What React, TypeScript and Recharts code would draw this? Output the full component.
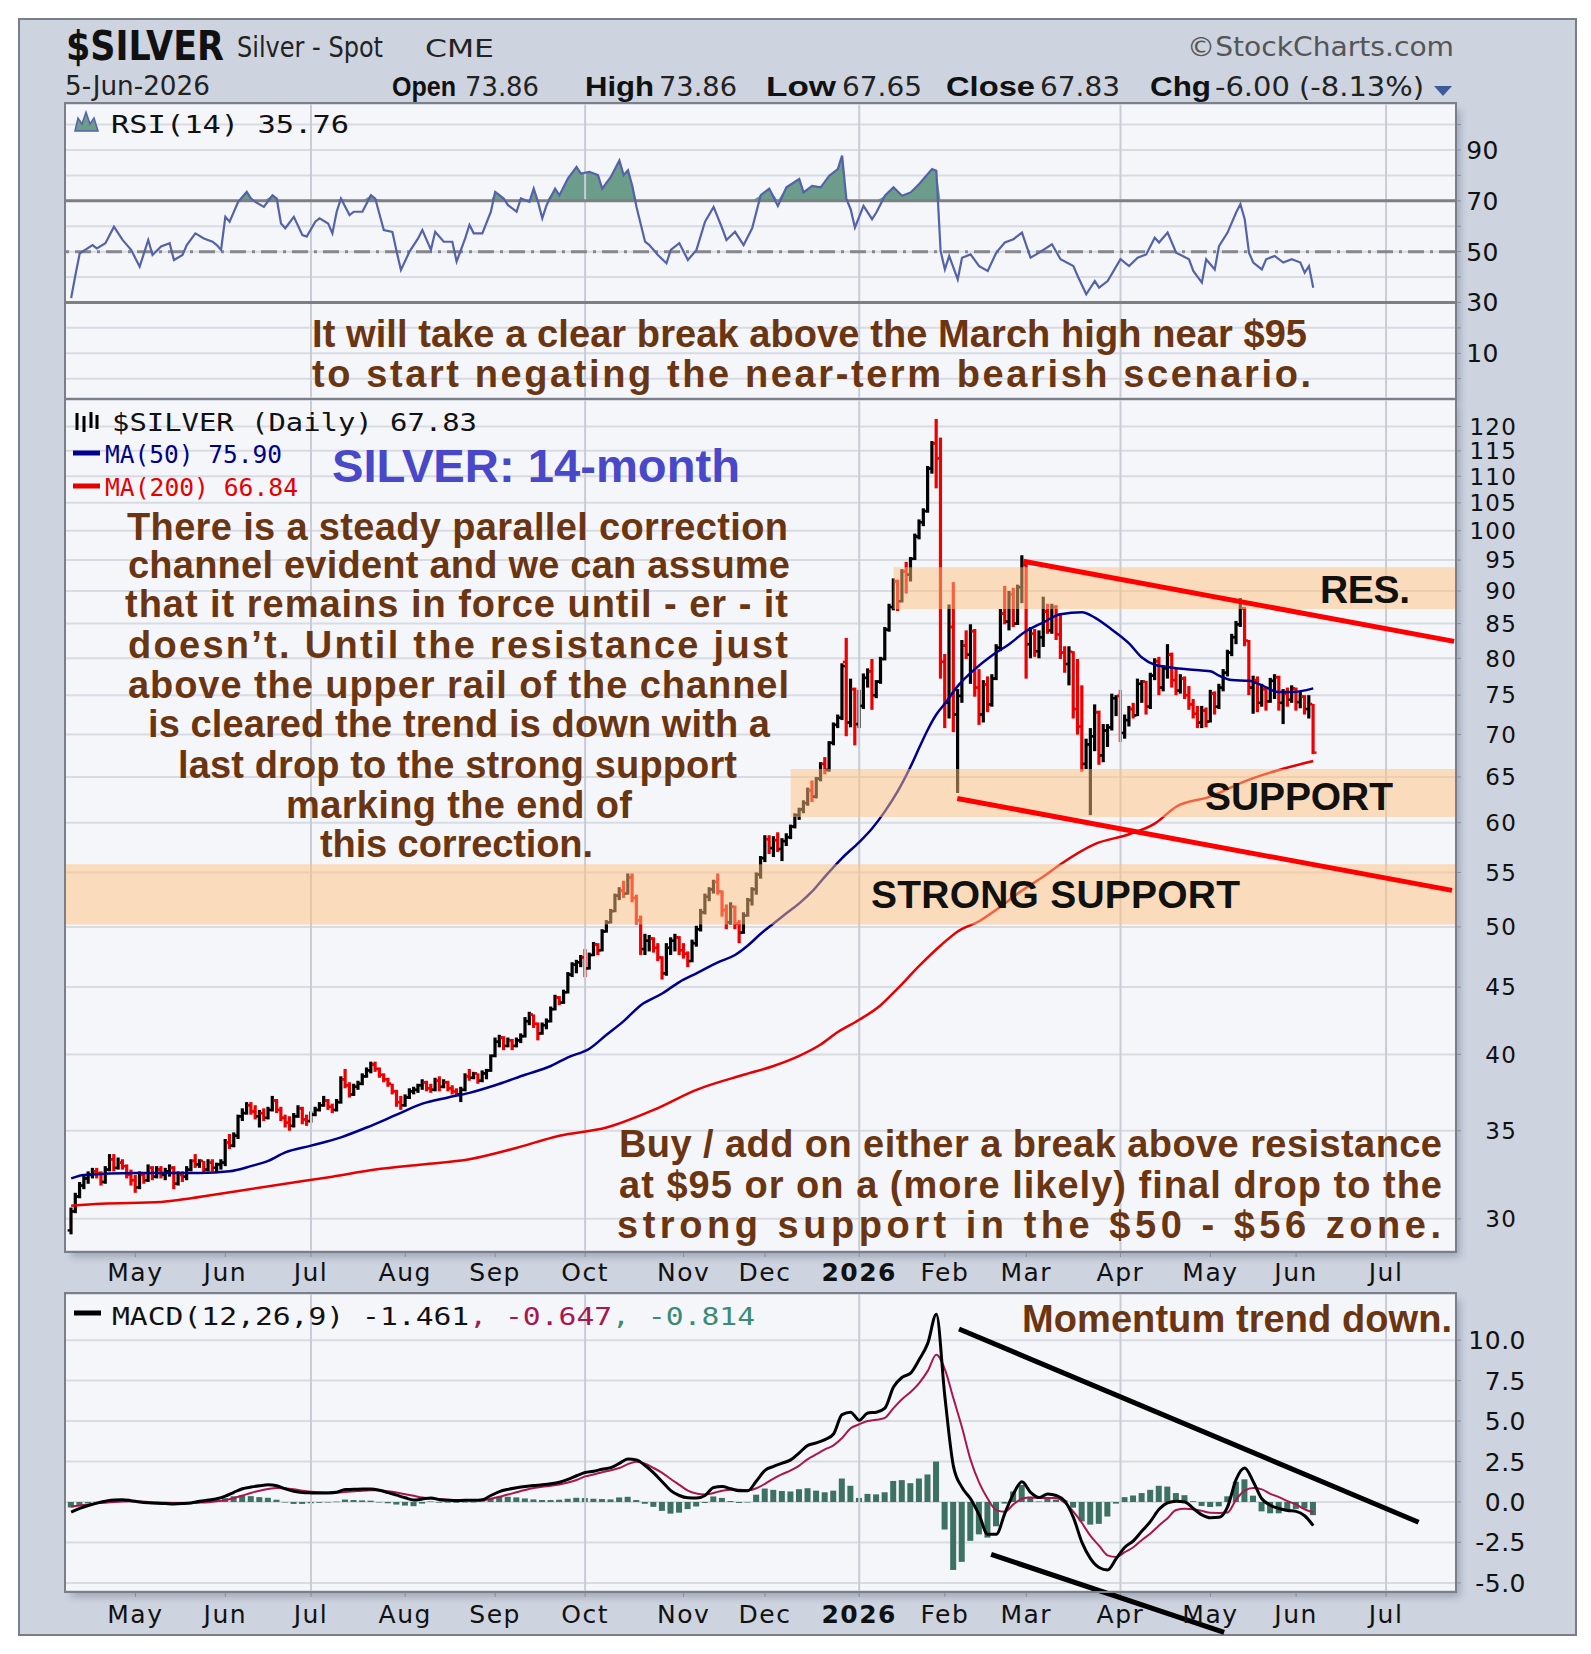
import React from 'react';
import {
  ComposedChart, Line, Bar, Area, XAxis, YAxis, CartesianGrid, ReferenceLine, ReferenceArea,
} from 'recharts';

// Trading-day index: 0 = 1 May 2025. First bar is day -15.
const FIRST_DAY = -15;

const OPEN = [
  29.4,30.4,31.2,31.8,32.2,32.4,32.6,32.5,32.0,32.7,
  33.3,32.8,33.1,32.9,32.4,32.1,31.7,32.4,32.1,32.8,
  32.3,32.7,32.4,32.6,32.8,31.9,32.4,32.3,32.7,33.2,
  33.0,33.2,32.7,33.1,32.8,33.0,33.1,34.3,34.1,34.7,
  35.9,36.1,36.6,36.2,35.9,36.1,35.8,36.3,36.9,36.3,
  35.8,35.5,35.3,35.9,36.4,35.7,35.6,36.0,36.3,36.6,
  36.9,36.5,36.3,36.8,38.3,37.9,37.3,37.8,38.0,38.5,
  38.9,39.3,39.0,38.6,38.3,38.0,37.5,36.8,36.6,37.1,
  37.5,37.6,37.9,38.1,37.7,37.6,38.2,37.8,38.1,37.7,
  37.5,37.3,37.6,38.5,38.4,38.7,38.2,38.7,38.9,39.9,
  40.9,41.2,40.6,41.0,40.6,41.0,41.3,42.4,42.9,42.2,
  41.5,42.1,42.4,43.3,44.2,43.8,44.6,46.0,46.8,47.0,
  47.4,46.5,47.6,48.5,48.0,49.6,50.4,51.4,52.8,53.3,
  53.0,54.5,52.6,50.6,48.1,48.8,49.0,48.2,47.4,46.1,
  48.2,48.8,49.1,48.0,47.7,47.1,48.6,49.8,51.3,52.7,
  53.4,54.1,53.2,51.5,50.4,51.8,50.3,49.5,51.0,52.4,
  53.4,54.8,56.4,58.3,57.4,58.2,57.3,58.1,58.5,59.6,
  60.8,61.4,62.1,63.5,62.8,64.8,66.5,65.8,69.0,71.2,
  72.1,79.5,71.5,75.8,71.3,73.6,77.3,78.2,75.0,76.8,
  79.9,84.1,87.5,91.5,88.4,93.1,92.6,95.2,99.0,101.5,
  103.5,111.5,116.5,113.5,79.5,74.0,84.5,72.5,74.9,81.8,
  80.5,83.9,76.0,72.5,76.4,73.8,77.2,81.5,86.5,85.3,
  89.5,85.0,90.6,94.2,82.0,83.5,81.0,83.0,86.8,84.0,
  87.5,83.4,80.8,79.2,80.9,73.2,71.0,66.5,68.8,69.8,
  72.8,67.5,70.5,70.9,74.6,74.9,70.2,71.8,73.2,72.4,
  76.5,76.8,73.5,77.6,79.6,76.0,78.6,80.5,77.0,75.6,
  77.2,75.0,73.8,72.6,71.5,73.0,71.6,75.2,73.5,76.0,
  78.0,80.8,83.0,84.9,87.3,82.5,76.0,77.0,74.0,75.8,
  74.2,76.9,77.4,74.0,75.2,74.4,75.9,74.1,74.8,73.2,
  73.86,
];

const HIGH = [
  30.6,31.4,32.0,32.4,32.6,32.8,32.8,32.6,32.9,33.6,
  33.6,33.4,33.3,33.0,32.7,32.4,32.6,32.5,33.0,32.9,
  32.9,32.9,32.8,33.0,32.9,32.6,32.6,32.9,33.3,33.6,
  33.3,33.2,33.3,33.3,33.1,33.3,34.5,34.8,34.9,36.0,
  36.4,36.8,36.8,36.6,36.3,36.4,36.5,37.2,37.0,36.5,
  36.0,35.9,36.1,36.6,36.5,36.0,36.2,36.5,36.8,37.2,
  37.0,36.7,37.0,38.5,39.0,38.1,38.0,38.2,38.7,39.1,
  39.5,39.5,39.1,38.7,38.4,38.0,37.6,37.2,37.3,37.7,
  37.8,38.0,38.3,38.2,38.0,38.4,38.5,38.3,38.2,37.9,
  37.7,37.8,38.7,39.0,38.8,38.7,38.9,39.0,40.0,41.2,
  41.4,41.3,41.2,41.1,41.2,41.5,42.7,43.1,42.9,42.3,
  42.3,42.6,43.5,44.4,44.3,44.8,46.2,47.0,47.2,47.6,
  48.1,47.8,48.7,48.6,49.8,50.6,51.6,53.0,53.6,54.2,
  54.9,54.9,52.9,51.0,49.4,49.3,49.1,48.6,47.5,48.6,
  49.1,49.4,49.2,48.6,47.9,48.9,50.1,51.6,53.0,53.6,
  54.3,54.9,53.3,52.0,52.2,51.9,50.6,51.3,52.6,53.6,
  55.0,56.6,58.7,58.7,58.6,59.0,58.4,58.9,59.8,61.0,
  61.6,62.4,63.8,64.6,65.0,66.7,67.3,69.2,71.5,72.5,
  79.3,82.9,77.2,76.0,75.7,77.9,78.6,79.9,77.0,80.2,
  84.5,88.0,92.0,91.8,93.5,94.7,95.5,99.5,102.0,104.0,
  112.0,117.0,121.6,117.7,80.6,87.9,91.4,75.8,82.6,84.0,
  84.9,84.2,78.5,77.0,77.5,77.8,82.0,87.2,90.8,90.0,
  90.5,91.0,95.8,94.7,84.5,84.2,84.0,89.1,88.0,88.0,
  87.8,86.6,81.7,81.7,81.0,79.9,76.3,69.5,70.8,73.8,
  73.0,71.3,71.3,75.2,75.0,75.7,72.5,73.6,74.0,77.2,
  77.0,76.9,78.0,80.0,80.2,79.0,82.0,80.8,78.5,77.8,
  77.5,76.2,74.5,73.6,73.6,73.4,75.7,75.5,76.5,78.5,
  81.2,83.5,85.4,88.9,87.5,82.6,77.6,77.5,76.5,76.0,
  77.3,77.8,77.6,75.8,76.0,76.3,76.0,75.5,75.0,75.0,
  73.86,
];

const LOW = [
  29.2,30.3,31.1,31.6,31.9,32.2,32.2,31.8,31.9,32.6,
  32.6,32.7,32.7,32.2,31.8,31.4,31.6,31.9,32.0,32.1,
  32.2,32.2,32.1,32.3,31.6,31.8,32.0,32.1,32.6,32.8,
  32.8,32.5,32.6,32.6,32.5,32.7,32.9,33.9,34.0,34.5,
  35.6,36.0,36.0,35.7,35.2,35.6,35.7,36.2,36.1,35.6,
  35.2,35.0,35.2,35.8,35.4,35.3,35.5,35.9,36.2,36.5,
  36.3,36.1,36.2,36.7,37.7,37.1,37.2,37.6,37.9,38.4,
  38.7,38.8,38.4,38.1,37.8,37.3,36.5,36.3,36.5,37.0,
  37.3,37.4,37.6,37.5,37.4,37.5,37.5,37.7,37.5,37.3,
  37.2,36.8,37.5,38.2,38.3,38.0,38.1,38.3,38.8,39.8,
  40.5,40.3,40.5,40.3,40.5,40.8,41.2,42.1,41.9,41.0,
  41.4,41.8,42.3,43.2,43.6,43.7,44.5,45.8,46.1,46.6,
  45.8,46.4,47.5,47.6,47.9,49.5,50.3,51.3,52.4,52.6,
  52.9,52.2,50.2,47.6,47.6,47.9,47.8,47.1,45.6,45.9,
  47.6,47.9,47.6,47.3,46.6,47.0,48.3,49.6,51.1,52.3,
  53.0,52.9,50.9,49.8,50.2,49.8,48.6,49.4,50.9,51.9,
  52.9,54.4,56.0,56.8,56.5,57.0,56.1,57.6,58.3,59.4,
  60.3,61.0,61.8,62.2,62.6,64.5,65.3,65.6,68.7,70.8,
  71.8,69.8,70.9,68.7,70.8,73.2,76.0,73.1,74.6,76.5,
  79.7,83.8,87.0,86.9,88.2,89.6,91.5,95.0,98.5,100.8,
  103.2,110.5,107.7,77.2,70.8,72.0,70.3,63.2,74.0,79.9,
  76.5,74.8,71.2,71.5,72.8,73.5,77.0,81.0,84.9,84.0,
  84.5,84.8,88.1,77.2,80.0,80.2,80.0,81.6,83.5,83.5,
  82.6,79.9,78.0,76.3,72.0,70.0,65.6,65.9,60.8,68.0,
  66.4,66.7,68.5,70.5,72.3,69.1,69.5,71.0,72.0,72.3,
  74.0,72.5,73.2,77.0,75.0,75.5,77.2,76.0,75.0,75.2,
  74.5,73.1,72.0,70.8,70.8,70.9,71.5,72.5,73.2,75.5,
  77.5,80.3,82.0,84.5,81.7,75.0,72.6,72.8,73.5,73.0,
  74.0,74.5,73.0,71.3,73.5,74.0,73.0,73.3,72.5,72.0,
  67.65,
];

const CLOSE = [
  30.4,31.2,31.8,32.2,32.4,32.6,32.5,32.0,32.7,33.3,
  32.8,33.1,32.9,32.4,32.1,31.7,32.4,32.1,32.8,32.3,
  32.7,32.4,32.6,32.8,31.9,32.4,32.3,32.7,33.2,33.0,
  33.2,32.7,33.1,32.8,33.0,33.1,34.3,34.1,34.7,35.9,
  36.1,36.6,36.2,35.9,36.1,35.8,36.3,36.9,36.3,35.8,
  35.5,35.3,35.9,36.4,35.7,35.6,36.0,36.3,36.6,36.9,
  36.5,36.3,36.8,38.3,37.9,37.3,37.8,38.0,38.5,38.9,
  39.3,39.0,38.6,38.3,38.0,37.5,36.8,36.6,37.1,37.5,
  37.6,37.9,38.1,37.7,37.6,38.2,37.8,38.1,37.7,37.5,
  37.3,37.6,38.5,38.4,38.7,38.2,38.7,38.9,39.9,40.9,
  41.2,40.6,41.0,40.6,41.0,41.3,42.4,42.9,42.2,41.5,
  42.1,42.4,43.3,44.2,43.8,44.6,46.0,46.8,47.0,47.4,
  46.5,47.6,48.5,48.0,49.6,50.4,51.4,52.8,53.3,53.0,
  54.5,52.6,50.6,48.1,48.8,49.0,48.2,47.4,46.1,48.2,
  48.8,49.1,48.0,47.7,47.1,48.6,49.8,51.3,52.7,53.4,
  54.1,53.2,51.5,50.4,51.8,50.3,49.5,51.0,52.4,53.4,
  54.8,56.4,58.3,57.4,58.2,57.3,58.1,58.5,59.6,60.8,
  61.4,62.1,63.5,62.8,64.8,66.5,65.8,69.0,71.2,72.1,
  78.9,71.5,75.8,71.3,73.6,77.3,78.2,75.0,76.8,79.9,
  84.1,87.5,91.5,88.4,93.1,92.6,95.2,99.0,101.5,103.5,
  111.5,116.5,113.5,79.5,74.0,84.5,72.5,74.9,81.8,80.5,
  83.9,76.0,72.5,76.4,73.8,77.2,81.5,86.5,85.3,89.5,
  85.0,90.6,94.2,82.0,83.5,81.0,83.0,86.8,84.0,87.5,
  83.4,80.8,79.2,80.9,73.2,71.0,66.5,68.8,69.8,72.8,
  67.5,70.5,70.9,74.6,74.9,70.2,71.8,73.2,72.4,76.5,
  76.8,73.5,77.6,79.6,76.0,78.6,80.5,77.0,75.6,77.2,
  75.0,73.8,72.6,71.5,73.0,71.6,75.2,73.5,76.0,78.0,
  80.8,83.0,84.9,87.3,82.5,76.0,77.0,74.0,75.8,74.2,
  76.9,77.4,74.0,75.2,74.4,75.9,74.1,74.8,73.2,73.83,
  67.83,
];

// Moving averages: [day, value]
const MA50_POINTS: [number, number][] = [
  [-15,32.2],[-12,32.4],[0,32.5],[15,32.5],[22,32.6],[27,32.9],[31,33.2],[35,33.7],[41,34.1],[48,34.6],
  [54,35.2],[61,36.0],[67,36.7],[73,37.1],[78,37.4],[84,37.9],[91,38.6],[97,39.2],[101,39.8],[106,40.4],
  [110,41.4],[114,42.4],[118,43.6],[123,44.5],[127,45.4],[131,46.1],[136,47.0],[140,47.6],[143,48.4],[146,49.4],
  [149,50.3],[152,51.2],[155,52.1],[158,53.2],[161,54.6],[165,56.4],[169,58.0],[172,59.4],[175,61.2],[178,63.4],
  [181,66.2],[183,68.4],[185,70.6],[187,72.5],[189,73.9],[192,76.2],[196,78.5],[200,80.4],[204,82.0],[208,83.9],
  [212,85.2],[216,86.4],[221,86.7],[224,85.9],[228,84.1],[232,82.1],[235,80.1],[238,79.1],[241,78.8],[245,78.5],
  [249,78.3],[251,78.2],[253,77.6],[256,77.0],[260,76.9],[263,76.3],[267,75.4],[270,75.4],[275,75.9],
];

const MA200_POINTS: [number, number][] = [
  [-15,30.7],[-8,30.8],[6,30.9],[13,31.1],[24,31.5],[35,31.9],[46,32.3],[56,32.7],[67,33.0],[78,33.3],
  [88,33.9],[99,34.7],[110,35.2],[121,36.3],[131,37.6],[142,38.6],[149,39.2],[155,39.9],[160,40.7],[164,41.6],
  [169,42.5],[174,43.6],[178,44.9],[183,46.7],[188,48.4],[192,49.6],[197,50.5],[202,51.8],[206,53.0],[212,54.6],
  [216,55.8],[224,57.8],[232,58.8],[238,59.9],[243,61.7],[251,62.8],[259,64.5],[267,65.8],[275,66.84],
];

const RSI_POINTS: [number, number][] = [
  [-15,31.7],[-14,40.8],[-13,49.3],[-10,52.6],[-9,51.3],[-7,53.3],[-5,59.8],[-3,54.6],[-1,50.7],[1,44.1],
  [3,54.6],[4,48.7],[6,52.0],[8,53.3],[9,46.7],[11,48.7],[12,52.6],[14,57.2],[16,55.2],[18,53.9],
  [19,52.6],[20,50.7],[21,63.7],[22,61.8],[24,69.6],[26,73.5],[27,70.9],[28,69.6],[30,67.6],[32,72.2],
  [33,70.9],[34,61.1],[35,59.2],[37,63.7],[39,56.5],[40,55.9],[42,61.8],[43,63.1],[45,61.1],[46,57.2],
  [47,65.7],[48,70.9],[50,64.4],[51,65.7],[53,65.7],[55,72.2],[56,70.9],[58,58.5],[60,57.8],[61,50.0],
  [62,42.8],[64,50.0],[66,55.2],[67,58.5],[69,50.7],[70,57.8],[72,53.9],[74,53.9],[75,46.1],[77,55.2],
  [78,60.5],[79,57.2],[81,57.2],[83,65.7],[84,73.5],[86,70.9],[87,68.3],[89,65.7],[90,70.9],[92,69.6],
  [93,74.8],[94,69.6],[95,63.1],[96,68.3],[98,74.8],[99,72.2],[101,78.8],[103,83.3],[104,80.7],[106,81.4],
  [108,80.1],[109,74.8],[111,79.4],[113,85.9],[114,80.1],[115,82.0],[116,76.0],[117,67.6],[119,53.9],[120,52.6],
  [122,48.7],[124,45.4],[125,50.7],[127,53.3],[129,46.7],[131,50.7],[133,61.8],[135,67.6],[137,59.2],[138,54.6],
  [140,57.8],[142,52.6],[144,59.2],[146,72.2],[148,74.8],[150,68.0],[152,75.3],[155,78.6],[156,73.3],[158,75.9],
  [160,75.3],[162,79.9],[164,82.5],[165,87.8],[166,70.7],[167,66.7],[168,59.5],[170,68.0],[172,62.8],[173,65.4],
  [175,72.0],[177,75.3],[179,72.0],[181,73.3],[183,76.6],[184,78.6],[186,82.5],[187,81.8],[188,50.3],[189,43.0],
  [190,48.3],[192,39.1],[193,47.6],[195,48.9],[197,44.3],[199,42.4],[201,49.6],[203,53.6],[205,54.9],[207,57.5],
  [209,47.6],[211,49.6],[214,52.9],[216,47.0],[219,44.3],[220,40.4],[222,33.2],[224,38.4],[225,35.8],[227,38.4],
  [230,47.0],[232,44.3],[234,47.6],[236,48.9],[238,55.5],[239,53.6],[241,57.5],[243,49.6],[246,47.0],[247,42.4],
  [249,37.8],[250,47.0],[252,43.0],[253,52.2],[255,57.5],[257,65.4],[258,68.7],[259,62.8],[260,49.6],[261,45.7],
  [263,43.0],[264,47.0],[266,48.3],[268,45.7],[270,47.0],[272,45.7],[273,41.7],[274,44.3],[275,35.76],
];

// MACD(12,26,9) and its signal line, one reading every second trading day from FIRST_DAY.
const MACD_STEP = 2;
const MACD = [
  -0.62,-0.40,-0.22,-0.07,0.05,0.13,0.14,0.08,0.00,-0.05,
  -0.08,-0.10,-0.12,-0.10,-0.06,0.04,0.12,0.20,0.36,0.60,
  0.82,0.92,1.00,1.06,1.00,0.82,0.66,0.58,0.56,0.55,
  0.56,0.60,0.77,0.78,0.80,0.80,0.72,0.58,0.42,0.26,
  0.12,0.18,0.25,0.14,0.10,0.08,0.10,0.10,0.14,0.40,
  0.64,0.78,0.88,0.96,1.02,1.06,1.12,1.22,1.40,1.62,
  1.82,1.90,2.02,2.12,2.38,2.66,2.60,2.25,1.80,1.25,
  0.70,0.40,0.26,0.24,0.40,0.90,0.95,0.82,0.70,0.70,
  1.30,1.95,2.20,2.40,2.60,3.04,3.50,3.65,3.85,4.20,
  5.40,5.55,5.05,5.50,5.55,5.80,7.10,7.70,7.96,8.80,
  9.80,11.60,6.50,2.20,0.90,0.20,-0.80,-2.00,-2.00,-0.70,
  0.50,1.25,0.60,0.28,0.50,0.40,0.05,-0.95,-2.50,-3.50,
  -4.05,-4.20,-3.50,-2.80,-2.40,-1.80,-1.20,-0.45,-0.05,0.05,
  0.00,-0.40,-0.80,-0.98,-0.95,-0.30,1.40,2.10,1.25,0.20,
  -0.20,-0.40,-0.52,-0.58,-0.85,-1.461,
];
const SIGNAL = [
  -0.28,-0.22,-0.15,-0.08,-0.04,0.00,0.03,0.04,0.03,0.00,
  -0.03,-0.05,-0.06,-0.07,-0.06,-0.04,-0.01,0.04,0.12,0.25,
  0.40,0.56,0.70,0.80,0.86,0.84,0.78,0.70,0.64,0.60,
  0.58,0.58,0.62,0.66,0.70,0.72,0.72,0.66,0.58,0.48,
  0.38,0.28,0.22,0.18,0.14,0.12,0.10,0.10,0.10,0.20,
  0.32,0.46,0.60,0.74,0.86,0.94,1.00,1.08,1.20,1.36,
  1.58,1.70,1.84,1.96,2.10,2.34,2.48,2.36,2.10,1.80,
  1.42,1.06,0.70,0.52,0.46,0.56,0.70,0.76,0.76,0.72,
  0.85,1.12,1.45,1.72,1.95,2.25,2.65,2.95,3.25,3.50,
  3.95,4.55,4.80,5.00,5.08,5.20,5.80,6.35,6.80,7.35,
  8.10,9.10,8.20,6.40,4.60,2.60,1.20,0.20,-0.50,-0.60,
  -0.15,0.20,0.28,0.25,0.25,0.25,-0.05,-0.60,-1.30,-2.10,
  -2.70,-3.30,-3.40,-3.10,-2.80,-2.35,-1.95,-1.45,-1.00,-0.50,
  -0.42,-0.45,-0.55,-0.67,-0.68,-0.65,0.15,0.70,0.86,0.78,
  0.50,0.30,0.05,-0.15,-0.45,-0.647,
];

const MONTH_DAYS = [0, 21, 41, 63, 84, 105, 128, 147, 169, 189, 208, 230, 251, 271, 292];
const MONTH_LABELS = ['May', 'Jun', 'Jul', 'Aug', 'Sep', 'Oct', 'Nov', 'Dec', '2026', 'Feb', 'Mar', 'Apr', 'May', 'Jun', 'Jul'];
const QUARTER_DAYS = [41, 105, 169, 230, 292];
const PRICE_TICKS = [30, 35, 40, 45, 50, 55, 60, 65, 70, 75, 80, 85, 90, 95, 100, 105, 110, 115, 120];
const RSI_TICKS = [0, 10, 20, 30, 40, 50, 60, 70, 80, 90, 100];
const RSI_LABELS = [10, 30, 50, 70, 90];
const MACD_TICKS = [-5, -2.5, 0, 2.5, 5, 7.5, 10];

// Annotated zones and trend channels (day, price)
const RES_ZONE = { from: 177, low: 87.2, high: 93.8 };
const SUPPORT_ZONE = { from: 153, low: 60.6, high: 65.9 };
const STRONG_ZONE = { low: 50.2, high: 55.8 };
const CHANNEL_UPPER: [number, number][] = [[207.3, 94.8], [307.9, 82.4]];
const CHANNEL_LOWER: [number, number][] = [[191.9, 62.6], [307.4, 53.3]];
const MACD_UPPER: [number, number][] = [[192.3, 10.69], [299.6, -1.25]];
const MACD_LOWER: [number, number][] = [[199.8, -3.24], [254.2, -8.06]];

const X_DOMAIN: [number, number] = [-16.2, 308.1];
const PRICE_DOMAIN: [number, number] = [28.36, 125.7];
const RSI_DOMAIN: [number, number] = [-7.6, 108.1];
const MACD_DOMAIN: [number, number] = [-5.5, 12.85];

const SANS = "'DejaVu Sans', Verdana, sans-serif";
const MONO = "'DejaVu Sans Mono', monospace";
const ARIAL = "'Liberation Sans', Arial, sans-serif";
const BROWN = '#6b3511';

const last = CLOSE.length - 1;
const priceRows = CLOSE.map((c, i) => ({
  day: FIRST_DAY + i,
  o: OPEN[i], h: HIGH[i], l: LOW[i], c,
  hl: [LOW[i], HIGH[i]],
  up: i === 0 ? c >= OPEN[i] : c >= CLOSE[i - 1],
}));
const ma50Rows = MA50_POINTS.map(([day, v]) => ({ day, v }));
const ma200Rows = MA200_POINTS.map(([day, v]) => ({ day, v }));
const rsiRows = RSI_POINTS.map(([day, v]) => ({ day, rsi: v, ob: [70, Math.max(70, v)] }));
const macdRows = MACD.map((m, i) => ({ day: FIRST_DAY + i * MACD_STEP, macd: m, signal: SIGNAL[i], hist: m - SIGNAL[i] }));

const seg = (p: [number, number][]) => p.map(([x, y]) => ({ x, y }));

// High-low bar with open tick on the left and close tick on the right (log price axis).
const OhlcShape = (props: any) => {
  const { x, y, width, height, payload } = props;
  if (x == null || y == null || !payload) return <g />;
  const cx = x + width / 2;
  const top = Math.min(y, y + height);
  const bot = Math.max(y, y + height);
  const lh = Math.log(payload.h);
  const span = lh - Math.log(payload.l) || 1;
  const py = (v: number) => top + ((lh - Math.log(v)) / span) * (bot - top);
  const color = payload.up ? '#000000' : '#ee0000';
  return (
    <g>
      <rect x={cx - 1.6} y={top} width={3.2} height={Math.max(bot - top, 2)} fill={color} />
      <rect x={cx - 3.4} y={py(payload.o) - 1.2} width={2.2} height={2.4} fill={color} />
      <rect x={cx + 1.2} y={py(payload.c) - 1.2} width={2.2} height={2.4} fill={color} />
    </g>
  );
};

const HistShape = (props: any) => {
  const { x, y, width, height } = props;
  if (x == null || y == null) return <g />;
  const cx = x + width / 2;
  const top = Math.min(y, y + height);
  const h = Math.abs(height);
  return <rect x={cx - 3} y={top} width={6} height={Math.max(h, 0.5)} fill="#3d7161" />;
};

const monthTick = (dy: number) => (props: any) => {
  const { x, y, payload } = props;
  const idx = MONTH_DAYS.indexOf(payload.value);
  const label = idx >= 0 ? MONTH_LABELS[idx] : '';
  return (
    <text x={x} y={y + dy} textAnchor="middle" fontFamily={SANS} fontSize={25}
      fontWeight={label === '2026' ? 700 : 400} letterSpacing={1.5} fill="#111">{label}</text>
  );
};

const valueTick = (dx: number, fmt: (v: number) => string, size = 25, show?: number[]) => (props: any) => {
  const { x, y, payload } = props;
  if (show && !show.includes(payload.value)) return <g />;
  return (
    <text x={x + dx} y={y + size * 0.36} textAnchor="end" fontFamily={SANS} fontSize={size}
      letterSpacing={size < 25 ? 1.2 : 0.5} fill="#111">
      {fmt(payload.value)}
    </text>
  );
};

const quarterLines = QUARTER_DAYS.map((d) => (
  <ReferenceLine key={`q${d}`} x={d} stroke="#c9ccd4" strokeWidth={2} />
));

const CHART_W = 1591;
const MARGIN_X = { left: 66, right: 56 };
const AXIS_W = 80;

function RsiChart() {
  return (
    <ComposedChart width={CHART_W} height={304} data={rsiRows}
      margin={{ top: 8, bottom: 2, ...MARGIN_X }}>
      <CartesianGrid vertical={false} stroke="#d8dbe2" strokeWidth={2} fill="#f4f6fa" />
      <XAxis dataKey="day" type="number" domain={X_DOMAIN} allowDataOverflow hide ticks={MONTH_DAYS} />
      <YAxis orientation="right" width={AXIS_W} domain={RSI_DOMAIN} allowDataOverflow ticks={RSI_TICKS}
        interval={0} axisLine={false} tickLine={{ stroke: '#8a8e98' }} tickSize={6} tickMargin={2}
        tick={valueTick(36, (v) => String(v), 25, RSI_LABELS)} />
      {quarterLines}
      <ReferenceLine y={70} stroke="#7d7f85" strokeWidth={3} />
      <ReferenceLine y={30} stroke="#7d7f85" strokeWidth={3} />
      <ReferenceLine y={50} stroke="#85878c" strokeWidth={3} strokeDasharray="16 6 3 6" />
      <Area dataKey="ob" type="linear" fill="#6c9d8b" fillOpacity={1} stroke="none" isAnimationActive={false} />
      <Line dataKey="rsi" type="linear" stroke="#5462a8" strokeWidth={2.2} dot={false} isAnimationActive={false} />
    </ComposedChart>
  );
}

function PriceChart() {
  const band = { fill: '#ffc27d', fillOpacity: 0.5, stroke: 'none' } as const;
  return (
    <ComposedChart width={CHART_W} height={900} data={priceRows}
      margin={{ top: 8, bottom: 0, ...MARGIN_X }}>
      <CartesianGrid vertical={false} stroke="#d8dbe2" strokeWidth={2} fill="#f4f6fa" />
      <XAxis dataKey="day" type="number" domain={X_DOMAIN} allowDataOverflow ticks={MONTH_DAYS} interval={0}
        height={41} axisLine={false} tickLine={{ stroke: '#8a8e98' }} tickSize={6} tickMargin={2}
        tick={monthTick(22)} />
      <YAxis orientation="right" width={AXIS_W} scale="log" domain={PRICE_DOMAIN} allowDataOverflow
        ticks={PRICE_TICKS} interval={0} axisLine={false} tickLine={{ stroke: '#8a8e98' }} tickSize={6}
        tickMargin={2} tick={valueTick(54, (v) => String(v), 23)} />
      {quarterLines}
      <Line data={ma200Rows} dataKey="v" type="monotone" stroke="#e60000" strokeWidth={2.5} dot={false}
        isAnimationActive={false} />
      <Line data={ma50Rows} dataKey="v" type="monotone" stroke="#00008b" strokeWidth={2.5} dot={false}
        isAnimationActive={false} />
      <Bar dataKey="hl" barSize={4} shape={OhlcShape} isAnimationActive={false} />
      <ReferenceArea x1={X_DOMAIN[0]} x2={X_DOMAIN[1]} y1={STRONG_ZONE.low} y2={STRONG_ZONE.high} {...band}
        ifOverflow="hidden" zIndex={450} />
      <ReferenceArea x1={SUPPORT_ZONE.from} x2={X_DOMAIN[1]} y1={SUPPORT_ZONE.low} y2={SUPPORT_ZONE.high} {...band}
        ifOverflow="hidden" zIndex={450} />
      <ReferenceArea x1={RES_ZONE.from} x2={X_DOMAIN[1]} y1={RES_ZONE.low} y2={RES_ZONE.high} {...band}
        ifOverflow="hidden" zIndex={450} />
      <ReferenceLine segment={seg(CHANNEL_UPPER)} stroke="#ff0000" strokeWidth={5} ifOverflow="hidden" zIndex={460} />
      <ReferenceLine segment={seg(CHANNEL_LOWER)} stroke="#ff0000" strokeWidth={5} ifOverflow="hidden" zIndex={460} />
    </ComposedChart>
  );
}

function MacdChart() {
  return (
    <ComposedChart width={CHART_W} height={350} data={macdRows}
      margin={{ top: 8, bottom: 0, ...MARGIN_X }}>
      <CartesianGrid vertical={false} stroke="#d8dbe2" strokeWidth={2} fill="#f4f6fa" />
      <XAxis dataKey="day" type="number" domain={X_DOMAIN} allowDataOverflow ticks={MONTH_DAYS} interval={0}
        height={45} axisLine={false} tickLine={{ stroke: '#8a8e98' }} tickSize={6} tickMargin={2}
        tick={monthTick(24)} />
      <YAxis orientation="right" width={AXIS_W} domain={MACD_DOMAIN} allowDataOverflow ticks={MACD_TICKS}
        interval={0} axisLine={false} tickLine={{ stroke: '#8a8e98' }} tickSize={6} tickMargin={2}
        tick={valueTick(63, (v) => v.toFixed(1))} />
      {quarterLines}
      <Bar dataKey="hist" barSize={6} shape={HistShape} isAnimationActive={false} />
      <Line dataKey="signal" type="monotone" stroke="#a8174f" strokeWidth={2} dot={false} isAnimationActive={false} />
      <Line dataKey="macd" type="monotone" stroke="#000000" strokeWidth={3} dot={false} isAnimationActive={false} />
      <ReferenceLine segment={seg(MACD_UPPER)} stroke="#000" strokeWidth={5} ifOverflow="visible" zIndex={900} />
      <ReferenceLine segment={seg(MACD_LOWER)} stroke="#000" strokeWidth={5} ifOverflow="visible" zIndex={900} />
    </ComposedChart>
  );
}

type TextSpec = { t: string; x: number; y: number; w: number };
const T = (s: TextSpec, size: number, fill: string, font: string, weight = 400, key?: string, squeeze = true) => (
  <text key={key ?? s.t} x={s.x} y={s.y} textLength={s.w} lengthAdjust={squeeze ? 'spacingAndGlyphs' : 'spacing'}
    fontSize={size} fontWeight={weight} fill={fill} fontFamily={font}>{s.t}</text>
);
// Commentary lines are set in Arial-metric bold and justified to their measured widths.
const note = (s: TextSpec) => T(s, 38, BROWN, ARIAL, 700, s.t, false);

const RSI_NOTE: TextSpec[] = [
  { t: 'It will take a clear break above the March high near $95', x: 312, y: 347, w: 995 },
  { t: 'to start negating the near-term bearish scenario.', x: 312, y: 387, w: 999 },
];
const MAIN_NOTE: TextSpec[] = [
  { t: 'There is a steady parallel correction', x: 127, y: 540, w: 661 },
  { t: 'channel evident and we can assume', x: 128, y: 578, w: 662 },
  { t: 'that it remains in force until - er - it', x: 125, y: 617, w: 663 },
  { t: 'doesn\u2019t. Until the resistance just', x: 128, y: 658, w: 660 },
  { t: 'above  the upper rail of the channel', x: 128, y: 698, w: 661 },
  { t: 'is cleared the trend is down with a', x: 148, y: 737, w: 622 },
  { t: 'last drop to the strong support', x: 178, y: 778, w: 559 },
  { t: 'marking the end of', x: 286, y: 818, w: 346 },
  { t: 'this correction.', x: 320, y: 857, w: 273 },
];
const BUY_NOTE: TextSpec[] = [
  { t: 'Buy / add on either a break above resistance', x: 619, y: 1157, w: 823 },
  { t: 'at $95 or on a (more likely) final drop to the', x: 619, y: 1198, w: 823 },
  { t: 'strong support in the $50 - $56 zone.', x: 617, y: 1238, w: 824 },
];

function Overlay() {
  const o = OPEN[last], h = HIGH[last], l = LOW[last], c = CLOSE[last];
  const chg = c - CLOSE[last - 1];
  const pct = (chg / CLOSE[last - 1]) * 100;
  const rsiNow = RSI_POINTS[RSI_POINTS.length - 1][1];
  const ma50Now = MA50_POINTS[MA50_POINTS.length - 1][1];
  const ma200Now = MA200_POINTS[MA200_POINTS.length - 1][1];
  const m = MACD[MACD.length - 1], s = SIGNAL[SIGNAL.length - 1];
  return (
    <svg width={1591} height={1654} style={{ position: 'absolute', left: 0, top: 0, pointerEvents: 'none' }}>
      {/* header */}
      {T({ t: '$SILVER', x: 66, y: 60, w: 158 }, 40, '#111', SANS, 700)}
      {T({ t: 'Silver - Spot', x: 237, y: 57, w: 146 }, 28, '#222', SANS)}
      {T({ t: 'CME', x: 425, y: 57, w: 69 }, 25, '#222', SANS)}
      {T({ t: '5-Jun-2026', x: 65, y: 95, w: 145 }, 26, '#222', SANS)}
      {T({ t: 'Open', x: 392, y: 96, w: 64 }, 28, '#111', ARIAL, 700)}
      {T({ t: o.toFixed(2), x: 465, y: 96, w: 74 }, 26, '#222', SANS, 400, 'o')}
      {T({ t: 'High', x: 585, y: 96, w: 69 }, 28, '#111', ARIAL, 700)}
      {T({ t: h.toFixed(2), x: 659, y: 96, w: 78 }, 26, '#222', SANS, 400, 'h')}
      {T({ t: 'Low', x: 766, y: 96, w: 70 }, 28, '#111', ARIAL, 700)}
      {T({ t: l.toFixed(2), x: 842, y: 96, w: 80 }, 26, '#222', SANS, 400, 'l')}
      {T({ t: 'Close', x: 946, y: 96, w: 89 }, 28, '#111', ARIAL, 700)}
      {T({ t: c.toFixed(2), x: 1040, y: 96, w: 80 }, 26, '#222', SANS, 400, 'c')}
      {T({ t: 'Chg', x: 1150, y: 96, w: 61 }, 28, '#111', ARIAL, 700)}
      {T({ t: `${chg.toFixed(2)} (${pct.toFixed(2)}%)`, x: 1215, y: 96, w: 209 }, 26, '#222', SANS, 400, 'chg')}
      <polygon points="1434,86 1452,86 1443,96" fill="#3b5b9a" />
      {T({ t: '\u00a9StockCharts.com', x: 1187, y: 56, w: 267 }, 26, '#555', SANS)}

      {/* RSI legend */}
      <polygon points="75,131 78,118 82,124 86,112 90,124 94,118 98,131" fill="#6c9d8b" stroke="#5462a8" strokeWidth={1.5} />
      {T({ t: `RSI(14) ${rsiNow.toFixed(2)}`, x: 111, y: 133, w: 238 }, 24, '#111', MONO)}

      {/* price legend */}
      <g stroke="#000" strokeWidth={3}>
        <line x1={77} y1={413} x2={77} y2={430} />
        <line x1={84} y1={416} x2={84} y2={432} />
        <line x1={91} y1={412} x2={91} y2={428} />
        <line x1={97} y1={415} x2={97} y2={429} />
      </g>
      {T({ t: `$SILVER (Daily) ${c.toFixed(2)}`, x: 112, y: 431, w: 365 }, 24, '#111', MONO, 400, 'pl')}
      <line x1={73} y1={453} x2={100} y2={453} stroke="#00008b" strokeWidth={5} />
      {T({ t: `MA(50) ${ma50Now.toFixed(2)}`, x: 105, y: 463, w: 177 }, 24, '#00008b', MONO, 400, 'm50')}
      <line x1={73} y1={486} x2={100} y2={486} stroke="#e60000" strokeWidth={5} />
      {T({ t: `MA(200) ${ma200Now.toFixed(2)}`, x: 105, y: 496, w: 193 }, 24, '#e60000', MONO, 400, 'm200')}
      {T({ t: 'SILVER: 14-month', x: 332, y: 482, w: 408 }, 47, '#4848c8', ARIAL, 700)}

      {/* zone labels */}
      {T({ t: 'RES.', x: 1320, y: 603, w: 90 }, 39, '#111', ARIAL, 700, 'res', false)}
      {T({ t: 'SUPPORT', x: 1205, y: 810, w: 188 }, 39, '#111', ARIAL, 700, 'sup', false)}
      {T({ t: 'STRONG SUPPORT', x: 871, y: 908, w: 369 }, 39, '#111', ARIAL, 700, 'ssup', false)}

      {/* commentary */}
      {RSI_NOTE.map(note)}
      {MAIN_NOTE.map(note)}
      {BUY_NOTE.map(note)}
      {note({ t: 'Momentum trend down.', x: 1022, y: 1332, w: 430 })}

      {/* MACD legend */}
      <line x1={74} y1={1313} x2={101} y2={1313} stroke="#000" strokeWidth={5} />
      <text x={112} y={1325} textLength={643} lengthAdjust="spacingAndGlyphs" fontSize={24} fontFamily={MONO}>
        <tspan fill="#111">{`MACD(12,26,9) ${m.toFixed(3)}`}</tspan>
        <tspan fill="#a8174f">{`, ${s.toFixed(3)}`}</tspan>
        <tspan fill="#3d8a74">{`, ${(m - s).toFixed(3)}`}</tspan>
      </text>
    </svg>
  );
}

const panelBg = (left: number, top: number, width: number, height: number) => ({
  position: 'absolute' as const, left, top, width, height, background: '#f4f6fa',
  boxShadow: '5px 6px 7px rgba(60,70,95,0.30)',
});
const panelBorder = (left: number, top: number, width: number, height: number) => ({
  position: 'absolute' as const, left: left - 2, top: top - 2, width: width + 4, height: height + 4,
  border: '2px solid #7b7f89', boxSizing: 'border-box' as const, pointerEvents: 'none' as const,
});

export default function App() {
  return (
    <div style={{ position: 'absolute', left: 0, top: 0, width: 1591, height: 1654, background: '#ffffff', overflow: 'hidden' }}>
      <div style={{ position: 'absolute', left: 18, top: 18, width: 1559, height: 1618, background: '#cdd3df',
        border: '2px solid #7a7e88', boxSizing: 'border-box' }} />
      <div style={panelBg(66, 104, 1389, 294)} />
      <div style={panelBg(66, 400, 1389, 851)} />
      <div style={panelBg(66, 1294, 1389, 297)} />
      <div style={{ position: 'absolute', left: 0, top: 96 }}><RsiChart /></div>
      <div style={{ position: 'absolute', left: 0, top: 392 }}><PriceChart /></div>
      <div style={{ position: 'absolute', left: 0, top: 1286 }}><MacdChart /></div>
      <div style={panelBorder(66, 104, 1389, 294)} />
      <div style={panelBorder(66, 400, 1389, 851)} />
      <div style={panelBorder(66, 1294, 1389, 297)} />
      <Overlay />
    </div>
  );
}
